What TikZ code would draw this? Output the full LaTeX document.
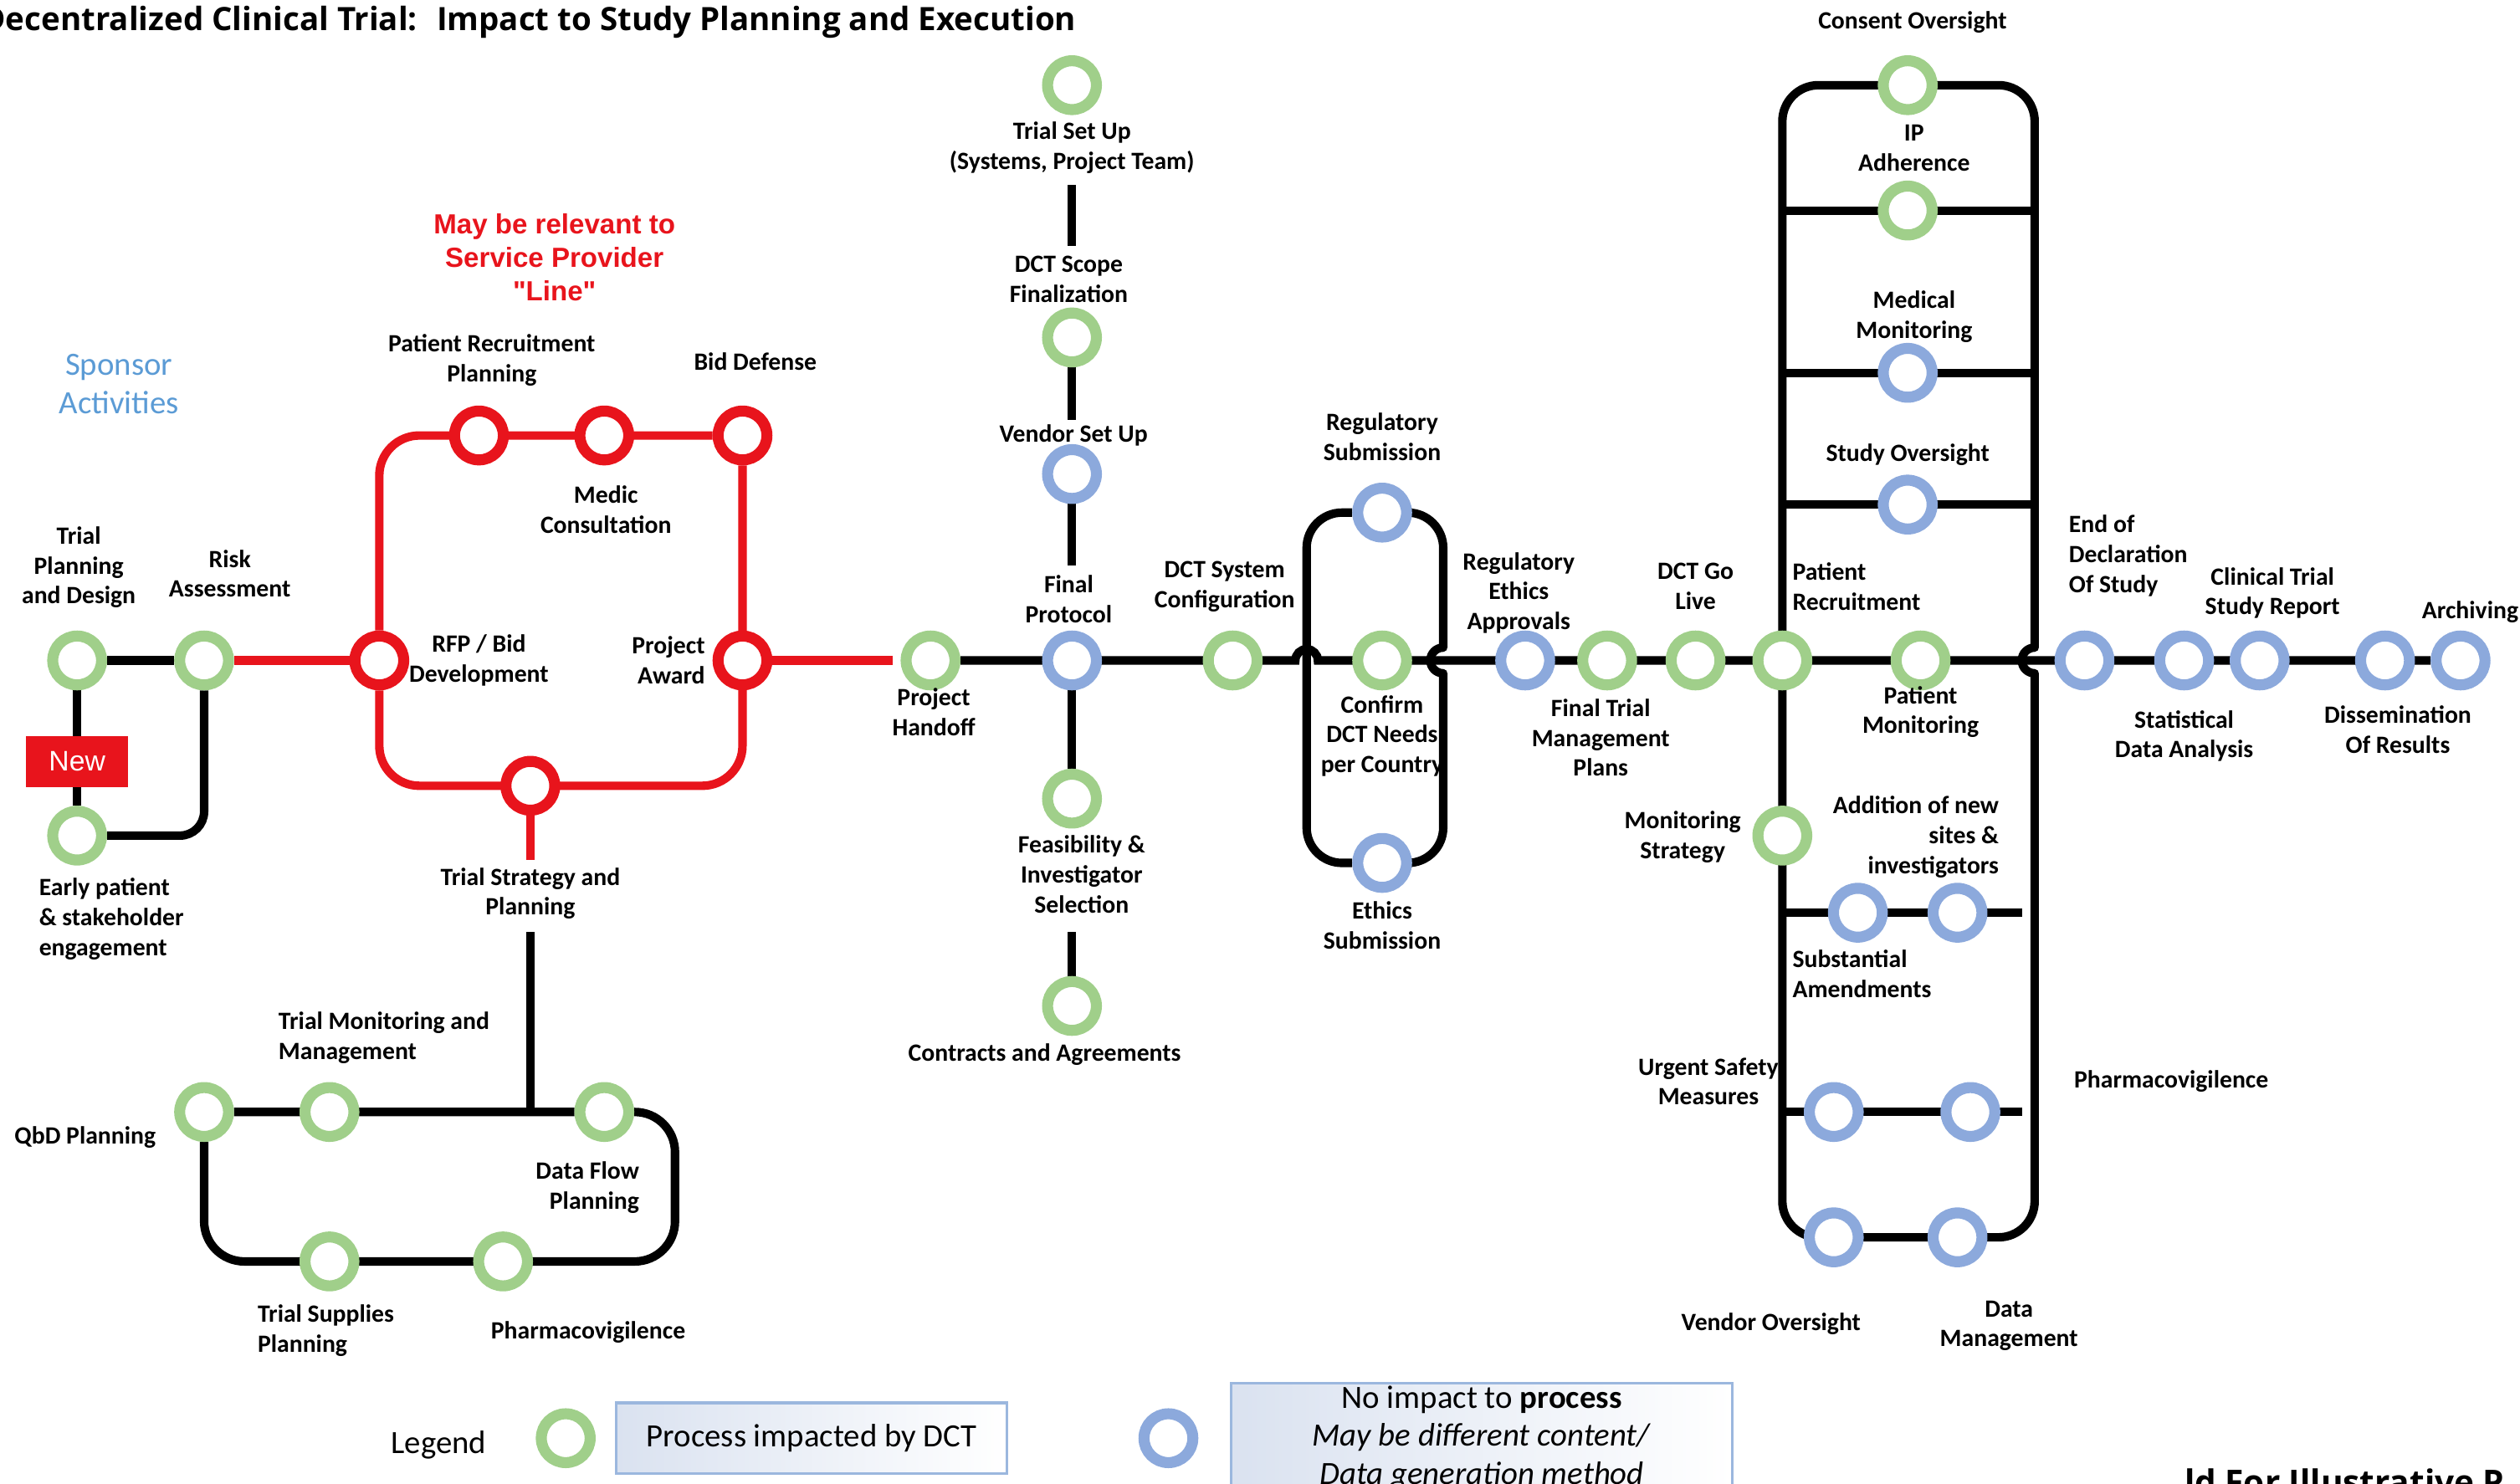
\documentclass[tikz,border=0pt]{standalone}
\usepackage{fontspec}
\setmainfont{Carlito}
\newfontfamily\headfont{Open Sans}
\newfontfamily\arialfont{Liberation Sans}
\usetikzlibrary{calc}
\pgfdeclarelayer{bg}
\pgfsetlayers{bg,main}

\definecolor{ringgreen}{RGB}{160,207,138}
\definecolor{ringblue}{RGB}{140,169,220}
\definecolor{linered}{RGB}{232,20,28}
\definecolor{sponsorblue}{RGB}{91,155,213}
\definecolor{legendedge}{RGB}{155,183,222}
\definecolor{legendtint}{RGB}{218,226,240}

\newcommand\labfont{\fontsize{8.8}{10.6}\selectfont\bfseries}

\begin{document}
\begin{tikzpicture}[x=0.02cm, y=-0.02cm,
  station/.style={circle, inner sep=0pt, minimum size=0.608cm, line width=3.9pt, fill=white},
  gst/.style={station, draw=ringgreen},
  bst/.style={station, draw=ringblue},
  rst/.style={station, draw=linered},
  lab/.style={font=\labfont, align=center, inner sep=0pt},
  track/.style={line width=3pt, draw=black},
  redtrack/.style={line width=3pt, draw=linered},
  legbox/.style={draw=legendedge, line width=0.9pt, left color=legendtint, right color=white, inner sep=0pt},
]
\useasboundingbox (0,0) rectangle (1568,923);
\clip (0,0) rectangle (1568,923);

% ---------- title ----------
\node[anchor=base east, inner sep=0pt, font=\headfont\bfseries\fontsize{11.4}{13.5}\selectfont] (title) at (670,19)
  {Decentralized Clinical Trial:~ Impact to Study Planning and Execution};

% ---------- stations: sponsor start ----------
\node[gst] (tpd) at (48,411) {};
\node[gst] (ra) at (127,411) {};
\node[gst] (ep) at (48,520) {};
\node[fill=linered, text=white, font=\arialfont\fontsize{10}{12}\selectfont, minimum width=1.27cm, minimum height=0.64cm, inner sep=0pt] (new) at (48,474) {New};

% ---------- service provider loop ----------
\node[rst] (rfp) at (236,411) {};
\node[rst] (pa) at (462,411) {};
\node[rst] (prp) at (298,271) {};
\node[rst] (mc) at (376,271) {};
\node[rst] (bd) at (462,271) {};
\node[rst] (tsp) at (330,489) {};

% ---------- planning loop ----------
\node[gst] (qbd) at (127,692) {};
\node[gst] (tmm) at (205,692) {};
\node[gst] (dfp) at (376,692) {};
\node[gst] (tsup) at (205,785) {};
\node[gst] (pva) at (313,785) {};
\coordinate (tj) at (330,692);
\coordinate (plTR) at (420,692);
\coordinate (plBR) at (420,785);

% ---------- set-up branch ----------
\node[gst] (tsu) at (667,53) {};
\node[gst] (dsf) at (667,210) {};
\node[bst] (vsu) at (667,295) {};
\node[gst] (fis) at (667,497) {};
\node[gst] (caa) at (667,626) {};

% ---------- main line ----------
\node[gst] (ph) at (579,411) {};
\node[bst] (fp) at (667,411) {};
\node[gst] (dsc) at (767,411) {};
\node[gst] (cdn) at (860,411) {};
\node[bst] (rea) at (949,411) {};
\node[gst] (ftm) at (1000,411) {};
\node[gst] (dgl) at (1055,411) {};
\node[gst] (pr) at (1109,411) {};
\node[gst] (pm) at (1195,411) {};
\node[bst] (eds) at (1297,411) {};
\node[bst] (sda) at (1359,411) {};
\node[bst] (ctsr) at (1406,411) {};
\node[bst] (dor) at (1484,411) {};
\node[bst] (arch) at (1531,411) {};

% ---------- regulatory loop ----------
\node[bst] (rs) at (860,319) {};
\node[bst] (es) at (860,537) {};
\coordinate (rlTL) at (813,319);
\coordinate (rlBL) at (813,537);
\coordinate (rlTR) at (898,319);
\coordinate (rlBR) at (898,537);
\coordinate (hopbT) at (898,403);
\coordinate (hopbB) at (898,419);
\coordinate (hopaL) at (806,411);

% ---------- conduct box ----------
\node[gst] (co) at (1187,53) {};
\node[gst] (ipa) at (1187,131) {};
\node[bst] (mm) at (1187,232) {};
\node[bst] (so) at (1187,314) {};
\node[gst] (ms) at (1109,520) {};
\node[bst] (sa) at (1156,568) {};
\node[bst] (ans) at (1218,568) {};
\node[bst] (usm) at (1141,692) {};
\node[bst] (pvb) at (1226,692) {};
\node[bst] (vo) at (1141,770) {};
\node[bst] (dm) at (1218,770) {};
\coordinate (bxTL) at (1109,53);
\coordinate (bxTR) at (1266,53);
\coordinate (bxBL) at (1109,770);
\coordinate (bxBR) at (1266,770);
\coordinate (hopcT) at (1266,403);
\coordinate (hopcB) at (1266,419);
\coordinate (rungA) at (1258,568);
\coordinate (rungB) at (1258,692);

% ---------- connectors ----------
\begin{pgfonlayer}{bg}
  \draw[track] (tpd) -- (ra);
  \draw[track] (tpd) -- (ep);
  \draw[track, rounded corners=0.3cm] (ep) -- (ep -| ra) -- (ra);
  \draw[redtrack] (ra) -- (rfp);
  \draw[redtrack, rounded corners=0.5cm] (rfp) -- (rfp |- bd) -- (bd);
  \draw[redtrack, rounded corners=0.5cm] (bd) -- (bd |- tsp) -- (rfp |- tsp) -- (rfp);
  \draw[redtrack, shorten >=0.1cm] (pa) -- (ph);
  \draw[redtrack, shorten >=3.14cm] (tsp) -- (tj);
  \draw[track, shorten >=1.45cm] (tj) -- (tsp);
  \draw[track, rounded corners=0.5cm] (qbd) -- (dfp) -- (plTR) -- (plBR) -- (qbd |- plBR) -- (qbd);
  % set-up branch
  \draw[track, shorten <=0.87cm, shorten >=0.77cm] (tsu) -- (dsf);
  \draw[track, shorten >=0.3cm] (dsf) -- (vsu);
  \draw[track, shorten >=0.81cm] (vsu) -- (fp);
  \draw[track] (fp) -- (fis);
  \draw[track, shorten <=1.29cm] (fis) -- (caa);
  % main line with a hop over the regulatory loop
  \draw[track] (ph) -- (hopaL) arc[start angle=180, end angle=0, radius=0.14cm] -- (arch);
  % regulatory loop
  \draw[track, rounded corners=0.44cm] (rs) -- (rlTL) -- (rlBL) -- (es);
  \draw[track, rounded corners=0.44cm] (rs) -- (rlTR) -- (hopbT);
  \draw[track, line cap=round] (hopbT) arc[start angle=90, end angle=270, radius=0.16cm];
  \draw[track, rounded corners=0.44cm] (hopbB) -- (rlBR) -- (es);
  % conduct box
  \draw[track, rounded corners=0.45cm] (hopcT) -- (bxTR) -- (bxTL) -- (bxBL) -- (bxBR) -- (hopcB);
  \draw[track, line cap=round] (hopcT) arc[start angle=90, end angle=270, radius=0.16cm];
  \draw[track] (bxTL |- ipa) -- (bxTR |- ipa);
  \draw[track] (bxTL |- mm) -- (bxTR |- mm);
  \draw[track] (bxTL |- so) -- (bxTR |- so);
  \draw[track] (bxTL |- sa) -- (rungA);
  \draw[track] (bxTL |- usm) -- (rungB);
\end{pgfonlayer}

% ---------- labels ----------
\node[font=\fontsize{11.5}{13.6}\selectfont, text=sponsorblue, align=center, inner sep=0pt] (sponsor) at (74,239) {Sponsor\\Activities};
\node[font=\arialfont\bfseries\fontsize{9.8}{11.9}\selectfont, text=linered, align=center, inner sep=0pt] (note) at (345,160) {May be relevant to\\Service Provider\\"Line"};

\node[lab] (l-tpd) at (49,353) {Trial\\Planning\\and Design};
\node[lab] (l-ra) at (143,357) {Risk\\Assessment};
\node[lab, anchor=west, align=left] (l-ep) at (24,572) {Early patient\\\& stakeholder\\engagement};
\node[lab] (l-rfp) at (298,411) {RFP / Bid\\Development};
\node[lab, anchor=east, align=right] (l-pa) at (439,411) {Project\\Award};
\node[lab] (l-prp) at (306,224) {Patient Recruitment\\Planning};
\node[lab] (l-bd) at (470,225) {Bid Defense};
\node[lab] (l-mc) at (377,317) {Medic\\Consultation};
\node[lab] (l-tsp) at (330,556) {Trial Strategy and\\Planning};
\node[lab, anchor=west, align=left] (l-tmm) at (173,646) {Trial Monitoring and\\Management};
\node[lab] (l-qbd) at (53,708) {QbD Planning};
\node[lab, anchor=east, align=right] (l-dfp) at (398,739) {Data Flow\\Planning};
\node[lab, anchor=west, align=left] (l-tsup) at (160,828) {Trial Supplies\\Planning};
\node[lab] (l-pva) at (366,829) {Pharmacovigilence};
\node[lab] (l-tsu) at (667,92) {Trial Set Up\\(Systems, Project Team)};
\node[lab] (l-dsf) at (665,174) {DCT Scope\\Finalization};
\node[lab] (l-vsu) at (668,271) {Vendor Set Up};
\node[lab] (l-fp) at (665,373) {Final\\Protocol};
\node[lab] (l-ph) at (581,443) {Project\\Handoff};
\node[lab] (l-fis) at (673,544) {Feasibility \&\\Investigator\\Selection};
\node[lab] (l-caa) at (650,656) {Contracts and Agreements};
\node[lab] (l-dsc) at (762,365) {DCT System\\Configuration};
\node[lab] (l-rs) at (860,272) {Regulatory\\Submission};
\node[lab] (l-cdn) at (860,458) {Confirm\\DCT Needs\\per Country};
\node[lab] (l-es) at (860,576) {Ethics\\Submission};
\node[lab] (l-rea) at (945,369) {Regulatory\\Ethics\\Approvals};
\node[lab] (l-ftm) at (996,459) {Final Trial\\Management\\Plans};
\node[lab] (l-dgl) at (1055,365) {DCT Go\\Live};
\node[lab, anchor=west, align=left] (l-pr) at (1115,365) {Patient\\Recruitment};
\node[lab] (l-pm) at (1195,443) {Patient\\Monitoring};
\node[lab] (l-co) at (1190,14) {Consent Oversight};
\node[lab] (l-ipa) at (1191,92) {IP\\Adherence};
\node[lab] (l-mm) at (1191,197) {Medical\\Monitoring};
\node[lab] (l-so) at (1187,283) {Study Oversight};
\node[lab] (l-ms) at (1047,521) {Monitoring\\Strategy};
\node[lab, anchor=east, align=right] (l-ans) at (1244,521) {Addition of new\\sites \&\\investigators};
\node[lab, anchor=west, align=left] (l-sa) at (1115,606) {Substantial\\Amendments};
\node[lab] (l-usm) at (1063,673) {Urgent Safety\\Measures};
\node[lab] (l-pvb) at (1351,673) {Pharmacovigilence};
\node[lab] (l-vo) at (1102,824) {Vendor Oversight};
\node[lab] (l-dm) at (1250,825) {Data\\Management};
\node[lab, anchor=west, align=left] (l-eds) at (1287,346) {End of\\Declaration\\Of Study};
\node[lab] (l-sda) at (1359,458) {Statistical\\Data Analysis};
\node[lab] (l-ctsr) at (1414,369) {Clinical Trial\\Study Report};
\node[lab] (l-arch) at (1537,381) {Archiving};
\node[lab] (l-dor) at (1492,454) {Dissemination\\Of Results};

% ---------- legend ----------
\node[font=\fontsize{11.5}{13.6}\selectfont, inner sep=0pt] (legend) at (273,899) {Legend};
\node[gst] (lg) at (352,895) {};
\node[legbox, minimum width=4.86cm, minimum height=0.88cm, font=\fontsize{11.5}{13.6}\selectfont] (boxa) at (505,895) {Process impacted by DCT};
\node[bst] (lb) at (727,895) {};
\node[legbox, anchor=north, minimum width=6.24cm, inner ysep=1pt, align=center, font=\fontsize{11.5}{13.4}\selectfont] (boxb) at (922,860)
  {No impact to \textbf{process}\\\textit{May be different content/}\\\textit{Data generation method}\\[2pt]};

\node[anchor=base west, inner sep=0pt, font=\headfont\bfseries\fontsize{12}{14}\selectfont] (foot) at (1359,930) {ld For Illustrative P};
\end{tikzpicture}
\end{document}
